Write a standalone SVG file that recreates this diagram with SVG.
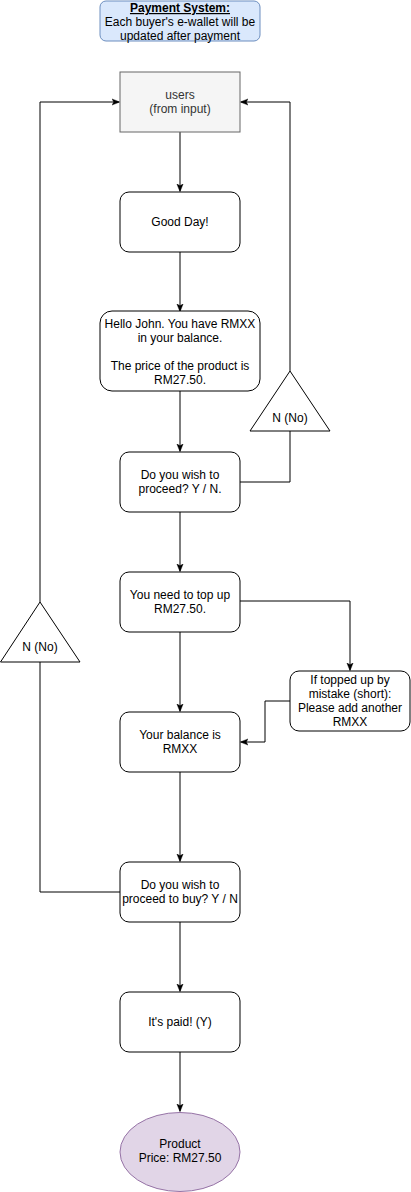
<svg xmlns="http://www.w3.org/2000/svg" width="411" height="1192" viewBox="0 0 411 1192">
<style>
text{font-family:"Liberation Sans",Arial,Helvetica,sans-serif;font-size:12px;text-anchor:middle;fill:#000}
.box{fill:#fff;stroke:#000;stroke-width:1}
.tri{fill:#fff;stroke:#000;stroke-width:1}
.ln{fill:none;stroke:#000;stroke-width:1}
.arr{fill:none;stroke:#000;stroke-width:1;marker-end:url(#ah)}
</style>
<defs>
<marker id="ah" viewBox="0 0 10 10" refX="9" refY="5" markerWidth="8" markerHeight="8" markerUnits="userSpaceOnUse" orient="auto">
<path d="M0,1 L10,5 L0,9 L2.5,5 Z" fill="#000" stroke="#000" stroke-width="0.5"/>
</marker>
</defs>
<rect width="411" height="1192" fill="#fff"/>
<g id="connectors">
<path class="arr" d="M180,132 V191"/>
<path class="arr" d="M180,252 V311"/>
<path class="arr" d="M180,391 V451"/>
<path class="arr" d="M180,512 V571"/>
<path class="arr" d="M180,632 V711"/>
<path class="arr" d="M180,772 V861"/>
<path class="arr" d="M180,922 V991"/>
<path class="arr" d="M180,1052 V1111"/>
<path class="ln" d="M240,482 H290 V431"/>
<path class="arr" d="M290,371 V102 H241"/>
<path class="ln" d="M120,892 H40 V662"/>
<path class="arr" d="M40,602 V102 H119"/>
<path class="arr" d="M240,601 H350 V670"/>
<path class="arr" d="M290,701 H265 V742 H241"/>
</g>
<g id="title">
<rect x="100" y="1" width="160" height="40" rx="6" fill="#dae8fc" stroke="#6c8ebf"/>
<text x="180" y="12" font-weight="bold" text-decoration="underline">Payment System:</text>
<text x="180" y="26">Each buyer's e-wallet will be</text>
<text x="180" y="40">updated after payment</text>
</g>
<g id="users">
<rect x="120" y="72" width="120" height="60" fill="#f5f5f5" stroke="#666666"/>
<text x="180" y="99" style="fill:#333333">users</text>
<text x="180" y="113" style="fill:#333333">(from input)</text>
</g>
<g id="goodday">
<rect class="box" x="120" y="192" width="120" height="60" rx="9"/>
<text x="180" y="226">Good Day!</text>
</g>
<g id="hello">
<rect class="box" x="100" y="311" width="160" height="80" rx="12"/>
<text x="180" y="328">Hello John. You have RMXX</text>
<text x="180" y="342">in your balance.</text>
<text x="180" y="370">The price of the product is</text>
<text x="180" y="384">RM27.50.</text>
</g>
<g id="proceed">
<rect class="box" x="120" y="452" width="120" height="60" rx="9"/>
<text x="180" y="479">Do you wish to</text>
<text x="180" y="493">proceed? Y / N.</text>
</g>
<g id="no-right">
<path class="tri" d="M290,371 L330,431 L250,431 Z"/>
<text x="290" y="422">N (No)</text>
</g>
<g id="topup">
<rect class="box" x="120" y="572" width="120" height="60" rx="9"/>
<text x="180" y="599">You need to top up</text>
<text x="180" y="613">RM27.50.</text>
</g>
<g id="mistake">
<rect class="box" x="290" y="671" width="120" height="60" rx="9"/>
<text x="350" y="684">If topped up by</text>
<text x="350" y="698">mistake (short):</text>
<text x="350" y="712">Please add another</text>
<text x="350" y="726">RMXX</text>
</g>
<g id="balance">
<rect class="box" x="120" y="712" width="120" height="60" rx="9"/>
<text x="180" y="739">Your balance is</text>
<text x="180" y="753">RMXX</text>
</g>
<g id="no-left">
<path class="tri" d="M40,602 L80,662 L0.5,662 Z"/>
<text x="40" y="651">N (No)</text>
</g>
<g id="buy">
<rect class="box" x="120" y="862" width="120" height="60" rx="9"/>
<text x="180" y="889">Do you wish to</text>
<text x="180" y="903">proceed to buy? Y / N</text>
</g>
<g id="paid">
<rect class="box" x="120" y="992" width="120" height="60" rx="9"/>
<text x="180" y="1026">It's paid! (Y)</text>
</g>
<g id="product">
<ellipse cx="180" cy="1152" rx="60" ry="39.5" fill="#e1d5e7" stroke="#9673a6"/>
<text x="180" y="1148">Product</text>
<text x="180" y="1162">Price: RM27.50</text>
</g>
</svg>
